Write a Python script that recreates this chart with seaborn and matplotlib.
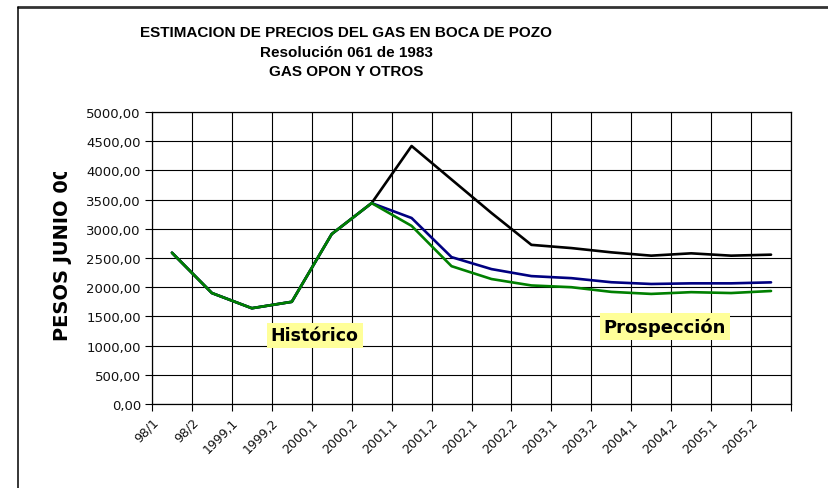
import matplotlib
matplotlib.use("Agg")
import matplotlib.pyplot as plt
import seaborn as sns
import pandas as pd
import numpy as np
from matplotlib.lines import Line2D
from matplotlib.ticker import FuncFormatter, MultipleLocator
from matplotlib.transforms import Bbox, TransformedBbox

# Periodos semestrales
periodos = ['98/1', '98/2', '1999,1', '1999,2', '2000,1', '2000,2',
            '2001,1', '2001,2', '2002,1', '2002,2', '2003,1', '2003,2',
            '2004,1', '2004,2', '2005,1', '2005,2']

# Precios estimados (pesos de junio 2000)
precio_alto = [2590, 1900, 1640, 1750, 2910, 3440, 4418, 3844, 3271, 2725,
               2670, 2597, 2540, 2580, 2540, 2557]
precio_medio = [2590, 1900, 1640, 1750, 2910, 3440, 3185, 2515, 2310, 2190,
                2155, 2085, 2055, 2066, 2066, 2083]
precio_bajo = [2590, 1900, 1640, 1750, 2910, 3440, 3050, 2360, 2140, 2030,
               2000, 1920, 1885, 1915, 1900, 1935]

series = ['Alto', 'Medio', 'Bajo']
colores = {'Alto': '#000000', 'Medio': '#000080', 'Bajo': '#008000'}

df = pd.DataFrame({
    'pos': list(range(len(periodos))) * 3,
    'precio': precio_alto + precio_medio + precio_bajo,
    'serie': [s for s in series for _ in periodos],
})

sns.set_theme(style='white')
plt.rcParams['font.family'] = ['DejaVu Sans']

W, H = 829, 489
fig = plt.figure(figsize=(W / 100, H / 100), dpi=100)
ax = fig.add_axes([152 / W, 1 - 405 / H, 639 / W, 292 / H])

sns.lineplot(data=df, x='pos', y='precio', hue='serie', hue_order=series,
             palette=colores, linewidth=1.9, legend=False, ax=ax,
             sort=False)

ax.set_xlim(-0.5, len(periodos) - 0.5)
ax.set_ylim(0, 5000)
ax.yaxis.set_major_locator(MultipleLocator(500))
ax.yaxis.set_major_formatter(FuncFormatter(lambda v, p: f"{v:.2f}".replace('.', ',')))

bordes = np.arange(len(periodos) + 1) - 0.5
ax.set_xticks(bordes)
ax.set_xticklabels(periodos + [''], rotation=45, ha='right',
                   rotation_mode='anchor', fontsize=9)
ax.tick_params(axis='x', direction='out', length=5, width=0.8, color='black',
               pad=3, bottom=True)
ax.tick_params(axis='y', direction='out', length=5, width=0.8, color='black',
               pad=3, labelsize=9.5, left=True)
for lab in ax.get_yticklabels() + ax.get_xticklabels():
    lab.set_color('#111111')

ax.grid(True, color='black', linewidth=0.8)
for sp in ax.spines.values():
    sp.set_color('black')
    sp.set_linewidth(0.9)
ax.set_xlabel('')
ax.set_ylabel('')

# Etiquetas de periodo
caja = dict(boxstyle='square,pad=0.22', facecolor='#FFFF99', edgecolor='none')
ax.text(3.575, 1173, 'Histórico', ha='center', va='center', fontsize=12.5,
        fontweight='bold', color='black', bbox=caja)
ax.text(12.34, 1327, 'Prospección', ha='center', va='center', fontsize=13,
        fontweight='bold', color='black', bbox=caja)

# Título
titulos = ['ESTIMACION DE PRECIOS DEL GAS EN BOCA DE POZO',
           'Resolución 061 de 1983', 'GAS OPON Y OTROS']
for txt, yc in zip(titulos, [33, 53, 72]):
    fig.text(346 / W, 1 - yc / H, txt, ha='center', va='center',
             fontsize=11, fontweight='bold', family='Liberation Sans',
             color='black')

# Eje vertical, recortado en la parte superior
yl = fig.text(62 / W, 1 - 341 / H, 'PESOS JUNIO 00', rotation=90,
              ha='center', va='bottom', fontsize=14, fontweight='bold',
              color='black')
yl.set_clip_box(TransformedBbox(Bbox([[0, 0], [1, 1 - 173 / H]]), fig.transFigure))
yl.set_clip_on(True)

# Marco del área del gráfico
fig.add_artist(Line2D([18 / W, 1], [1 - 7.5 / H, 1 - 7.5 / H],
                      transform=fig.transFigure, color='#333333', linewidth=2.0))
fig.add_artist(Line2D([18 / W, 18 / W], [0, 1 - 7.5 / H],
                      transform=fig.transFigure, color='black', linewidth=1.1))

fig.savefig('out.png', dpi=100)
